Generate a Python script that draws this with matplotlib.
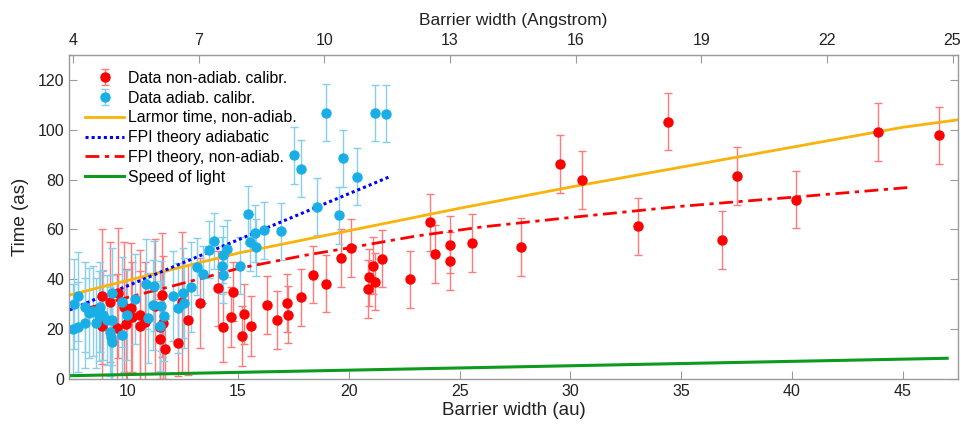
import matplotlib
matplotlib.use("Agg")
import matplotlib.pyplot as plt

plt.rcParams["font.family"] = ["Liberation Sans", "DejaVu Sans"]

AU_TO_ANGSTROM = 0.529177

# measured delays, non-adiabatic calibration (barrier width in au, time in as)
red_x = [8.87, 9.59, 9.22, 8.87, 9.52, 9.86, 10.15, 9.93, 10.23, 10.57, 10.57, 10.80,
         11.25, 11.48, 11.55, 11.63, 11.48, 11.70, 12.30, 12.45, 12.73, 13.28, 14.11,
         14.33, 14.67, 14.76, 15.19, 15.27, 15.58, 16.29, 16.74, 17.19, 17.27, 17.84,
         18.38, 18.97, 19.63, 20.11, 20.85, 20.92, 21.07, 21.16, 21.49, 22.74, 23.66,
         23.88, 24.56, 24.56, 25.57, 27.77, 29.53, 30.53, 33.05, 34.39, 36.83, 37.53,
         40.18, 43.86, 46.61]
red_y = [33.1, 34.4, 31.0, 21.4, 20.3, 29.0, 28.4, 22.1, 25.0, 25.7, 21.3, 23.0,
         29.3, 21.0, 33.7, 22.4, 15.9, 11.9, 14.3, 31.0, 23.7, 30.4, 36.4,
         21.0, 25.0, 35.1, 17.3, 26.0, 21.3, 29.7, 23.7, 30.5, 25.8, 32.7,
         41.9, 38.2, 48.6, 52.5, 36.1, 40.8, 45.5, 39.1, 48.3, 40.0, 62.8,
         50.2, 53.9, 47.4, 54.6, 52.9, 86.3, 79.9, 61.3, 103.3, 55.8, 81.5,
         72.0, 99.1, 97.7]
red_err = [27, 26, 24, 22, 22, 26, 26, 22, 22, 26, 22, 24,
           27, 22, 25, 27, 16, 12, 13, 28, 22, 18, 15,
           14, 12, 12, 12, 12, 12] + [11.5] * 30

# measured delays, adiabatic calibration
blue_x = [7.56, 7.79, 7.59, 7.79, 8.09, 8.09, 8.29, 8.47, 8.59, 8.74, 8.77, 8.89,
          9.07, 9.22, 9.30, 9.25, 9.30, 9.32, 9.75, 9.75, 9.97, 10.35, 10.84, 10.95,
          11.17, 11.22, 11.48, 11.52, 11.67, 12.08, 12.30, 12.53, 12.57, 12.86,
          13.13, 13.40, 13.69, 13.93, 14.26, 14.31, 14.33, 14.49, 15.09, 15.46,
          15.54, 15.76, 15.81, 16.17, 16.95, 17.51, 17.82, 18.57, 18.95, 19.57,
          19.72, 20.37, 21.16, 21.69]
blue_y = [20.0, 21.0, 30.0, 33.1, 29.0, 22.6, 26.4, 27.3, 22.4, 25.3, 29.0, 25.7,
          23.7, 19.0, 23.7, 17.0, 15.0, 34.4, 17.7, 31.0, 25.7, 32.1, 38.0, 24.6,
          29.7, 37.3, 21.3, 29.3, 25.3, 33.3, 28.4, 34.4, 30.4, 36.8,
          45.1, 42.0, 51.8, 55.4, 45.4, 41.8, 49.8, 52.2, 45.4, 66.1,
          54.9, 58.5, 52.9, 59.7, 59.2, 89.7, 84.3, 69.1, 106.8, 65.6,
          88.6, 81.1, 106.7, 106.4]
blue_err = [18] * 34 + [11.4] * 24

# theory curves
larmor_x = [7.4, 10, 15, 20, 25, 30, 35, 40, 45, 47.5]
larmor_y = [33.7, 39.5, 50.5, 59.5, 68.5, 77.0, 85.0, 93.0, 101.0, 104.0]
fpi_ad_x = [7.4, 21.8]
fpi_ad_y = [27.7, 81.0]
fpi_na_x = [8.2, 10, 12, 15, 18, 20, 23, 26, 30, 35, 40, 45.2]
fpi_na_y = [28.4, 32.7, 37.2, 44.3, 49.6, 52.6, 57.3, 61.0, 64.8, 69.3, 72.9, 76.8]
light_x = [7.4, 47.0]
light_y = [1.31, 8.31]

AXIS_GREY = "#9a9a9a"
TEXT = "#222222"

fig = plt.figure(figsize=(9.61, 4.29), dpi=100)
ax = fig.add_axes([0.0718, 0.1166, 0.9251, 0.7552])

h_red = ax.errorbar(red_x, red_y, yerr=red_err, fmt="o", color="#ff0000", ms=6.5,
                    ecolor="#ff7a7a", elinewidth=1.0, capsize=3, capthick=1.0,
                    label="Data non-adiab. calibr.")
h_blue = ax.errorbar(blue_x, blue_y, yerr=blue_err, fmt="o", color="#1aaee6", ms=6.5,
                     ecolor="#86d0ef", elinewidth=1.0, capsize=3, capthick=1.0,
                     label="Data adiab. calibr.")

l_larmor, = ax.plot(larmor_x, larmor_y, color="#f8b30c", lw=2.0,
                    label="Larmor time, non-adiab.")
l_fpi_ad, = ax.plot(fpi_ad_x, fpi_ad_y, color="#0000ff", lw=2.2, ls=(0, (1, 1)),
                    label="FPI theory adiabatic")
l_fpi_na, = ax.plot(fpi_na_x, fpi_na_y, color="#ff0000", lw=2.0, ls=(0, (5, 2, 1.5, 2)),
                    label="FPI theory, non-adiab.")
l_light, = ax.plot(light_x, light_y, color="#0d9a1f", lw=2.2, label="Speed of light")

ax.set_xlim(7.37, 47.49)
ax.set_ylim(0, 130)
ax.set_xticks([10, 15, 20, 25, 30, 35, 40, 45])
ax.set_yticks([0, 20, 40, 60, 80, 100, 120])
ax.tick_params(direction="in", length=6, width=0.8, color=AXIS_GREY,
               labelsize=11.5, labelcolor=TEXT, right=True, top=False)
for spine in ax.spines.values():
    spine.set_edgecolor(AXIS_GREY)
    spine.set_linewidth(1.0)

ax.set_xlabel("Barrier width (au)", fontsize=13.5, color=TEXT, labelpad=2)
ax.set_ylabel("Time (as)", fontsize=13.5, color=TEXT, labelpad=6)

top = ax.secondary_xaxis("top", functions=(lambda v: v * AU_TO_ANGSTROM,
                                           lambda v: v / AU_TO_ANGSTROM))
top.set_xticks([4, 7, 10, 13, 16, 19, 22, 25])
top.tick_params(direction="in", length=6, width=0.8, color=AXIS_GREY,
                labelsize=11.5, labelcolor=TEXT, pad=5)
top.spines["top"].set_edgecolor(AXIS_GREY)
top.set_xlabel("Barrier width (Angstrom)", fontsize=12.5, color=TEXT, labelpad=6)

ax.legend(handles=[h_red, h_blue, l_larmor, l_fpi_ad, l_fpi_na, l_light],
          loc="upper left", bbox_to_anchor=(0.0, 1.0), frameon=False,
          fontsize=11.4, labelspacing=0.3, handlelength=2.5, handletextpad=0.25,
          borderaxespad=0.7, borderpad=0.3)

fig.savefig("out.png", dpi=100)
